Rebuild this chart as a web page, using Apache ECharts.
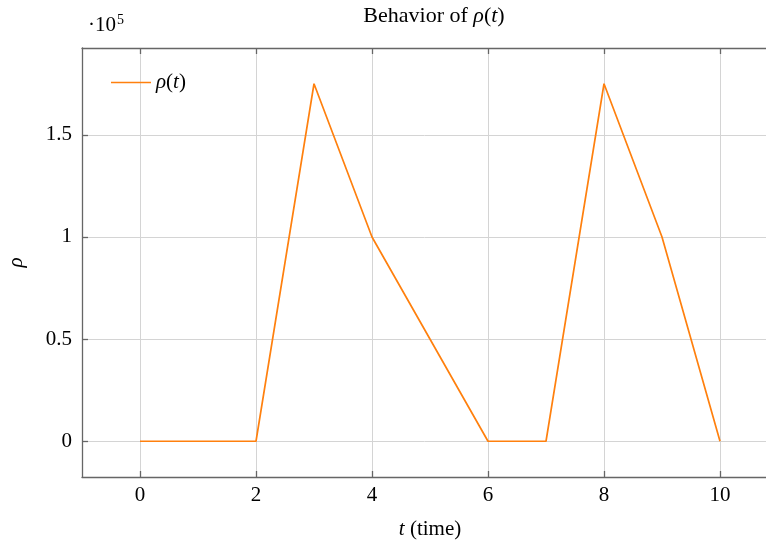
<!DOCTYPE html>
<html>
<head>
<meta charset="utf-8">
<script src="https://cdn.jsdelivr.net/npm/echarts@6/dist/echarts.min.js"></script>
<style>
  html, body { margin: 0; padding: 0; background: #fff; }
  #chart { width: 766px; height: 548px; }
</style>
</head>
<body>
<div id="chart"></div>
<script>
  // data
  var tValues = [0, 2, 3, 4, 6, 7, 8, 9, 10];
  var rhoValues = [0, 0, 175000, 100000, 0, 0, 175000, 100000, 0];
  var xTicks = [0, 2, 4, 6, 8, 10];
  var yTicks = [0, 50000, 100000, 150000];

  var serif = '"Liberation Serif", "DejaVu Serif", serif';
  var lineColor = '#ff800e';
  var axisColor = '#666';
  var gridColor = '#d4d4d4';
  var fs = 21;

  var points = tValues.map(function (t, i) { return [t, rhoValues[i]]; });

  var mathRich = {
    n: { fontFamily: serif, fontSize: fs, fontWeight: 'normal', color: '#000' },
    i: { fontFamily: serif, fontSize: fs, fontWeight: 'normal', fontStyle: 'italic', color: '#000' }
  };
  var titleRich = {
    n: { fontFamily: serif, fontSize: 22, fontWeight: 'normal', color: '#000' },
    i: { fontFamily: serif, fontSize: 22, fontWeight: 'normal', fontStyle: 'italic', color: '#000' }
  };

  var chart = echarts.init(document.getElementById('chart'));

  var option = {
    animation: false,
    textStyle: { fontFamily: serif, color: '#000' },
    title: {
      text: '{n|Behavior of }{i|ρ}{n|(}{i|t}{n|)}',
      left: 429, textAlign: 'center', top: 0,
      textStyle: { fontWeight: 'normal', rich: titleRich }
    },
    legend: {
      left: 106, top: 67,
      itemWidth: 40, itemHeight: 14, itemGap: 7,
      data: [{ name: 'rho', icon: 'path://M0,7 L40,7 L40,8.6 L0,8.6 Z' }],
      formatter: function () { return '{i|ρ}{n|(}{i|t}{n|)}'; },
      textStyle: { rich: mathRich }
    },
    graphic: [{
      type: 'text', left: 88, top: 13,
      style: {
        text: '{n|·10}{s|5}',
        rich: {
          n: { fontFamily: serif, fontSize: 21, fill: '#000' },
          s: { fontFamily: serif, fontSize: 14, fill: '#000', padding: [0, 0, 11, 1] }
        }
      }
    }],
    grid: { left: 82, top: 48, width: 696, height: 429, outerBoundsMode: 'none', containLabel: false },
    xAxis: [{
      type: 'value', min: -1, max: 11, position: 'bottom',
      name: '{i|t}{n| (time)}', nameLocation: 'middle', nameGap: 42,
      nameTextStyle: { rich: mathRich },
      axisLine: { show: true, onZero: false, lineStyle: { color: axisColor, width: 1.3 } },
      axisTick: { show: true, inside: true, length: 6, customValues: xTicks, lineStyle: { color: axisColor, width: 1.3 } },
      axisLabel: { customValues: xTicks, margin: 8, fontSize: fs, color: '#000', fontFamily: serif },
      splitLine: { show: true, lineStyle: { color: gridColor, width: 1 } }
    }, {
      type: 'value', min: -1, max: 11, position: 'top',
      axisLine: { show: true, onZero: false, lineStyle: { color: axisColor, width: 1.3 } },
      axisTick: { show: true, inside: true, length: 6, customValues: xTicks, lineStyle: { color: axisColor, width: 1.3 } },
      axisLabel: { show: false },
      splitLine: { show: false }
    }],
    yAxis: {
      type: 'value', min: -17500, max: 192500,
      name: 'ρ', nameLocation: 'middle', nameGap: 55, nameRotate: 90,
      nameTextStyle: { fontFamily: serif, fontSize: fs, fontStyle: 'italic', color: '#000' },
      axisLine: { show: true, onZero: false, lineStyle: { color: axisColor, width: 1.3 } },
      axisTick: { show: true, inside: true, length: 6, customValues: yTicks, lineStyle: { color: axisColor, width: 1.3 } },
      axisLabel: {
        customValues: yTicks, margin: 10, fontSize: fs, color: '#000', fontFamily: serif,
        formatter: function (v) { return String(v / 100000); }
      },
      splitLine: { show: true, lineStyle: { color: gridColor, width: 1 } }
    },
    series: [{
      name: 'rho',
      type: 'line',
      data: points,
      symbol: 'none',
      color: lineColor,
      lineStyle: { color: lineColor, width: 1.7 }
    }]
  };

  chart.setOption(option);
</script>
</body>
</html>
